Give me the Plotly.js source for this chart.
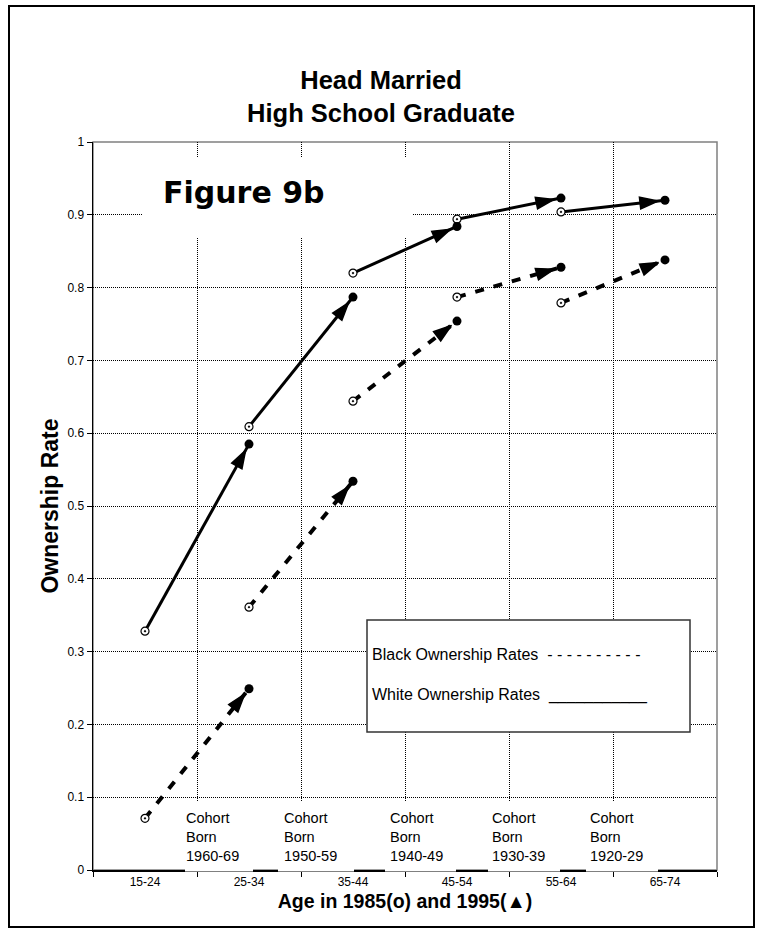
<!DOCTYPE html>
<html><head><meta charset="utf-8">
<script src="https://cdn.plot.ly/plotly-3.0.1.min.js"></script>
<style>html,body{margin:0;padding:0;background:#fff}</style>
</head><body><div id="chart" style="width:762px;height:935px"></div>
<script>
// ---- data ----
const ageGroups = ['15-24','25-34','35-44','45-54','55-64','65-74'];
const cohortLabels = ['1960-69','1950-59','1940-49','1930-39','1920-29'];
// 1985 observation at age group i, 1995 observation at age group i+1 (cohort i)
const white1985 = [0.328, 0.609, 0.820, 0.894, 0.904];
const white1995 = [0.585, 0.787, 0.884, 0.923, 0.920];
const black1985 = [0.071, 0.361, 0.644, 0.787, 0.779];
const black1995 = [0.249, 0.534, 0.754, 0.828, 0.838];
const legendLabels = ['Black Ownership Rates', 'White Ownership Rates'];

// ---- layout geometry ----
const W = 762, H = 935, M = {l:93, r:45, t:142, b:65};
const PW = W - M.l - M.r, PH = H - M.t - M.b;
const XR = [-0.5, 5.5];
const fx = p => (p - M.l) / PW;          // pixel x -> paper
const fy = p => (H - M.b - p) / PH;      // pixel y -> paper
const FONT = 'Liberation Sans, Arial, sans-serif';

const idx85 = cohortLabels.map((c, i) => i);
const idx95 = cohortLabels.map((c, i) => i + 1);

function lineXY(y85, y95) {
  const x = [], y = [];
  idx85.forEach((i, k) => { x.push(i, idx95[k], null); y.push(y85[k], y95[k], null); });
  return {x, y};
}
// arrow tip a few pixels before the 1995 point, direction from 1985 point
function arrowXY(y85, y95) {
  const x = [], y = [], size = [], sym = [];
  idx85.forEach((i, k) => {
    const dxp = (idx95[k] - i) / (XR[1] - XR[0]) * PW;
    const dyp = (y95[k] - y85[k]) * PH;
    const len = Math.hypot(dxp, dyp);
    const f = 1 - 7 / len;
    x.push(i, i + f * (idx95[k] - i));
    y.push(y85[k], y85[k] + f * (y95[k] - y85[k]));
    size.push(0, 19); sym.push('circle', 'arrow');
  });
  return {x, y, size, sym};
}

const traces = [];
const wl = lineXY(white1985, white1995), bl = lineXY(black1985, black1995);
traces.push({x: wl.x, y: wl.y, mode: 'lines', line: {color: '#000', width: 3}, hoverinfo: 'skip', name: legendLabels[1]});
traces.push({x: bl.x, y: bl.y, mode: 'lines', line: {color: '#000', width: 4, dash: '9px,10px'}, hoverinfo: 'skip', name: legendLabels[0]});
[white1985, black1985].forEach((a, j) => {
  const b = j === 0 ? white1995 : black1995;
  const ar = arrowXY(a, b);
  traces.push({x: ar.x, y: ar.y, mode: 'markers', hoverinfo: 'skip',
    marker: {symbol: ar.sym, size: ar.size, color: '#000', opacity: 1, angleref: 'previous', line: {width: 1.5, color: '#000'}}});
});
[white1985, black1985].forEach(a => traces.push({x: idx85, y: a, mode: 'markers', hoverinfo: 'skip',
  marker: {symbol: 'circle-dot', size: 8, color: '#fff', line: {color: '#000', width: 1.2}}}));
[white1995, black1995].forEach(a => traces.push({x: idx95, y: a, mode: 'markers', hoverinfo: 'skip',
  marker: {symbol: 'circle', size: 9, color: '#000'}}));

// ---- decorations ----
const cohortTextX = [184, 282, 388, 490, 588];
const cohortBoxX = [[185,253],[278,354],[385,456],[488,560],[586,658]];
const shapes = [
  {type:'rect', xref:'paper', yref:'paper', x0:0, x1:1, y0:0, y1:1, line:{color:'#808080', width:1.5}, layer:'below'},
  {type:'rect', xref:'paper', yref:'paper', x0:fx(9), x1:fx(754), y0:fy(927), y1:fy(6), line:{color:'#000', width:2}, layer:'above'},
  {type:'rect', xref:'paper', yref:'paper', x0:fx(143), x1:fx(413), y0:fy(237), y1:fy(158), line:{width:0}, fillcolor:'#fff', layer:'above'},
  {type:'rect', xref:'paper', yref:'paper', x0:fx(367), x1:fx(690), y0:fy(732), y1:fy(620), line:{color:'#333', width:1.5}, fillcolor:'#fff', layer:'above'}
];
cohortBoxX.forEach(b => shapes.push({type:'rect', xref:'paper', yref:'paper', x0:fx(b[0]), x1:fx(b[1]), y0:fy(871.5), y1:fy(801), line:{width:0}, fillcolor:'#fff', layer:'above'}));

const annotations = [
  {text:'Figure 9b', xref:'paper', yref:'paper', x:fx(161), y:fy(193), xanchor:'left', yanchor:'middle', showarrow:false,
   font:{family:'DejaVu Sans, sans-serif', size:30, weight:'bold', color:'#000'}},
  {text:legendLabels[0] + '\u00a0\u00a0- - - - - - - - - -', xref:'paper', yref:'paper', x:fx(370), y:fy(654), xanchor:'left', yanchor:'middle', showarrow:false,
   font:{family:FONT, size:16, color:'#000'}},
  {text:legendLabels[1] + '\u00a0\u00a0___________', xref:'paper', yref:'paper', x:fx(370), y:fy(695), xanchor:'left', yanchor:'middle', showarrow:false,
   font:{family:FONT, size:16, color:'#000'}}
];
cohortLabels.forEach((c, i) => annotations.push({text:'Cohort<br>Born<br>' + c, xref:'paper', yref:'paper',
  x:fx(cohortTextX[i]), y:fy(807.5), xanchor:'left', yanchor:'top', align:'left', showarrow:false,
  font:{family:FONT, size:14.5, color:'#000'}}));

const layout = {
  width: W, height: H, margin: M, showlegend: false,
  paper_bgcolor: '#fff', plot_bgcolor: '#fff',
  font: {family: FONT, color: '#000'},
  title: {text: 'Head Married<br>High School Graduate', x: 0.5, xref: 'container', xanchor: 'center',
    y: 1 - 88.5/H, yref: 'container', yanchor: 'top', font: {family: FONT, size: 25.5, weight: 'bold', color: '#000'}},
  xaxis: {range: XR, tickmode: 'array', tickvals: ageGroups.map((a, i) => i), ticktext: ageGroups,
    ticks: '', showgrid: false, zeroline: false, showline: true, linecolor: '#000', linewidth: 1.5,
    tickfont: {size: 12, color: '#000'},
    minor: {tickmode: 'array', tickvals: [-0.5, 0.5, 1.5, 2.5, 3.5, 4.5, 5.5], ticks: 'outside', ticklen: 5,
      tickcolor: '#000', tickwidth: 1, showgrid: true, gridcolor: '#000', griddash: '1px,1px', gridwidth: 1},
    title: {text: 'Age in 1985(o) and 1995(\u25B2)', standoff: 6, font: {size: 19.5, weight: 'bold', color: '#000'}},
    automargin: false},
  yaxis: {range: [0, 1], tick0: 0, dtick: 0.1, ticks: 'outside', ticklen: 5, tickcolor: '#000',
    showline: true, linecolor: '#000', linewidth: 1.5, zeroline: false,
    showgrid: true, gridcolor: '#000', griddash: '1px,1px', gridwidth: 1,
    tickfont: {size: 12, color: '#000'},
    title: {text: 'Ownership Rate', standoff: 2, font: {size: 23, weight: 'bold', color: '#000'}},
    automargin: false},
  shapes, annotations
};
Plotly.newPlot('chart', traces, layout, {displayModeBar: false, staticPlot: true});
</script></body></html>
